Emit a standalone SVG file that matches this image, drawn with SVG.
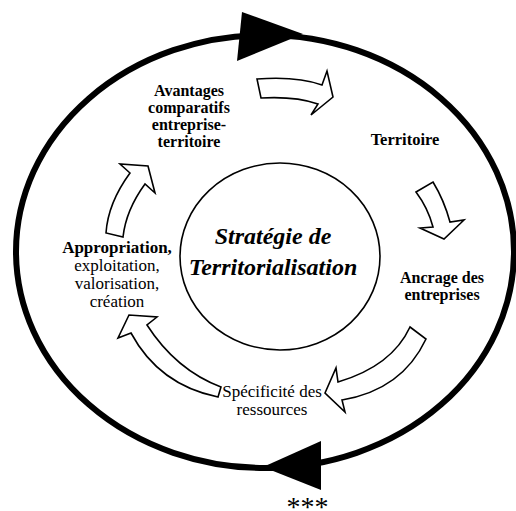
<svg xmlns="http://www.w3.org/2000/svg" width="516" height="511" viewBox="0 0 516 511">
<style>
text{font-family:"Liberation Serif","Times New Roman",serif;fill:#000;text-anchor:middle}
.b{font-weight:bold;font-size:16.5px}
.a{font-weight:bold;font-size:16px}
.r{font-size:17px}
.c{font-weight:bold;font-style:italic;font-size:24px}
.blk{fill:#fff;stroke:#000;stroke-width:1.6;stroke-linejoin:miter}
</style>
<rect width="516" height="511" fill="#fff"/>
<g id="connectors">
<ellipse cx="265" cy="251.5" rx="249" ry="216.5" fill="none" stroke="#000" stroke-width="6"/>
<polygon points="242,12 237,61 303,34" fill="#000"/>
<polygon points="321,441 321,490 263,467" fill="#000"/>
<path class="blk" d="M257,79 Q297,76 322,85 L327,71 L333,97 L311,115 L318,104 Q295,96 261,98 Z"/>
<path class="blk" d="M416,192 L433,182 Q444,200 450,222 L464,220 L444,239 L420,228 L433,227 Q428,208 416,192 Z"/>
<path class="blk" d="M410,327 L426,339 Q402,390 342,400 L345,412 L325,393 L336,368 L338,382 Q392,366 410,327 Z"/>
<path class="blk" d="M221,387 Q176,370 147,325 L157,317 L129,315 L118,338 L131,333 Q159,385 218,397 Z"/>
<path class="blk" d="M123,237 Q126,210 145,184 L155,193 L148,166 L120,164 L130,173 Q108,203 106,233 Z"/>
</g>
<g id="center">
<ellipse cx="280" cy="256.5" rx="100" ry="93.5" fill="none" stroke="#000" stroke-width="1.6"/>
<text class="c" x="273" y="244">Stratégie de</text>
<text class="c" x="273" y="275">Territorialisation</text>
</g>
<g id="avantages">
<text class="a" x="189" y="96">Avantages</text>
<text class="a" x="189" y="113">comparatifs</text>
<text class="a" x="189" y="130">entreprise-</text>
<text class="a" x="189" y="147">territoire</text>
</g>
<g id="territoire">
<text class="b" x="405" y="145">Territoire</text>
</g>
<g id="ancrage">
<text class="a" x="442" y="283">Ancrage des</text>
<text class="a" x="442" y="300">entreprises</text>
</g>
<g id="specificite">
<text class="r" x="272" y="397">Spécificité des</text>
<text class="r" x="272" y="415">ressources</text>
</g>
<g id="appropriation">
<text class="b" x="117" y="253" style="font-size:17px">Appropriation,</text>
<text class="r" x="117" y="271">exploitation,</text>
<text class="r" x="117" y="289">valorisation,</text>
<text class="r" x="117" y="307">création</text>
</g>
<g id="stars">
<text x="307.5" y="516" style="font-size:28px">***</text>
</g>
</svg>
